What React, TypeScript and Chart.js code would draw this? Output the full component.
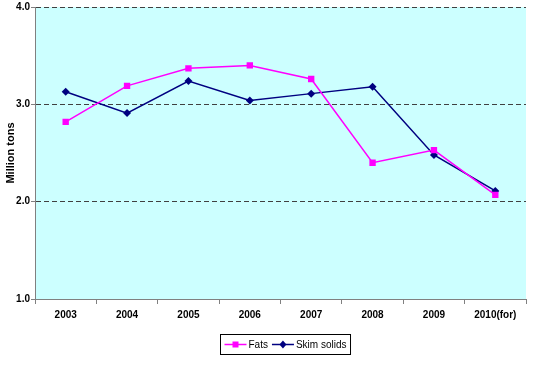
import React, { useEffect, useRef } from "react";
import { Chart, registerables } from "chart.js";

Chart.register(...registerables);

const categories = ["2003", "2004", "2005", "2006", "2007", "2008", "2009", "2010(for)"];
const fats = [2.82, 3.19, 3.37, 3.4, 3.26, 2.4, 2.53, 2.07];
const skimSolids = [3.13, 2.91, 3.24, 3.04, 3.11, 3.18, 2.48, 2.11];
const yTickValues = [1.0, 2.0, 3.0, 4.0];
const seriesNames = ["Fats", "Skim solids"];
const seriesColors = ["#FF00FF", "#000080"];

const FONT = "'Liberation Sans', Arial, sans-serif";

const plotBg = {
  id: "plotBg",
  beforeDraw(chart: any) {
    const { ctx, chartArea } = chart;
    ctx.save();
    ctx.fillStyle = "#CCFFFF";
    ctx.fillRect(chartArea.left, chartArea.top, chartArea.right - chartArea.left, chartArea.bottom - chartArea.top);
    ctx.restore();
  },
};

const boxLegend = {
  id: "boxLegend",
  afterDraw(chart: any) {
    const { ctx, chartArea } = chart;
    ctx.save();
    ctx.font = `10px ${FONT}`;
    const lineLen = 22;
    const gapText = 2;
    const itemGap = 4;
    const padX = 4;
    const items = chart.data.datasets.map((ds: any) => ({
      label: ds.label,
      color: ds.borderColor,
      style: ds.pointStyle,
      w: ctx.measureText(ds.label).width,
    }));
    let total = padX * 2;
    items.forEach((it: any, i: number) => {
      total += lineLen + gapText + it.w + (i > 0 ? itemGap : 0);
    });
    const cx = (chartArea.left + chartArea.right) / 2 + 5;
    const left = Math.round(cx - total / 2) + 0.5;
    const top = chart.height - 31.5;
    const h = 20;
    ctx.strokeStyle = "#000000";
    ctx.lineWidth = 1;
    ctx.strokeRect(left, top, total, h);
    const cy = top + h / 2;
    let x = left + padX;
    items.forEach((it: any, i: number) => {
      if (i > 0) x += itemGap;
      ctx.strokeStyle = it.color;
      ctx.fillStyle = it.color;
      ctx.lineWidth = 1.5;
      ctx.beginPath();
      ctx.moveTo(x, cy);
      ctx.lineTo(x + lineLen, cy);
      ctx.stroke();
      const mx = x + lineLen / 2;
      ctx.beginPath();
      if (it.style === "rect") {
        ctx.rect(mx - 3, cy - 3, 6, 6);
      } else {
        ctx.moveTo(mx, cy - 4);
        ctx.lineTo(mx + 3.5, cy);
        ctx.lineTo(mx, cy + 4);
        ctx.lineTo(mx - 3.5, cy);
        ctx.closePath();
      }
      ctx.fill();
      x += lineLen + gapText;
      ctx.fillStyle = "#000000";
      ctx.textBaseline = "middle";
      ctx.textAlign = "left";
      ctx.fillText(it.label, x, cy + 0.5);
      x += it.w;
    });
    ctx.restore();
  },
};

export default function App() {
  const ref = useRef<HTMLCanvasElement | null>(null);

  useEffect(() => {
    document.body.style.margin = "0";
    if (!ref.current) return;
    const chart = new Chart(ref.current, {
      type: "line",
      data: {
        labels: categories,
        datasets: [
          {
            label: seriesNames[0],
            data: fats,
            borderColor: seriesColors[0],
            backgroundColor: seriesColors[0],
            borderWidth: 1.5,
            pointStyle: "rect",
            pointRadius: 4.5,
            pointBorderWidth: 0,
            tension: 0,
          },
          {
            label: seriesNames[1],
            data: skimSolids,
            borderColor: seriesColors[1],
            backgroundColor: seriesColors[1],
            borderWidth: 1.5,
            pointStyle: "rectRot",
            pointRadius: 4,
            pointBorderWidth: 0,
            tension: 0,
          },
        ],
      },
      options: {
        animation: false,
        responsive: false,
        maintainAspectRatio: false,
        layout: { padding: { top: 7, right: 24, left: 0, bottom: 0 } },
        plugins: {
          legend: { display: false },
          tooltip: { enabled: false },
        },
        scales: {
          x: {
            offset: true,
            grid: {
              offset: true,
              drawOnChartArea: false,
              drawTicks: true,
              tickLength: 5,
              color: "#808080",
            },
            border: { display: true, color: "#808080", width: 1 },
            ticks: {
              color: "#000000",
              font: { family: FONT, size: 10, weight: "bold" },
              padding: 5,
              maxRotation: 0,
              autoSkip: false,
            },
            afterFit(scale: any) {
              scale.height = 67;
            },
          },
          y: {
            min: 1,
            max: 4,
            afterBuildTicks(scale: any) {
              scale.ticks = yTickValues.map((v) => ({ value: v }));
            },
            grid: {
              color: "#404040",
              lineWidth: 1,
              tickLength: 4,
              tickColor: "#808080",
              tickBorderDash: [],
            },
            border: { display: true, color: "#808080", width: 1, dash: [5, 3] },
            ticks: {
              color: "#000000",
              font: { family: FONT, size: 10, weight: "bold" },
              padding: 1,
              callback: (v: any) => Number(v).toFixed(1),
            },
            title: {
              display: true,
              text: "Million tons",
              color: "#000000",
              font: { family: FONT, size: 11, weight: "bold" },
              padding: { top: 4, bottom: 0 },
            },
            afterFit(scale: any) {
              scale.width = 35;
            },
          },
        },
      },
      plugins: [plotBg, boxLegend],
    });
    return () => chart.destroy();
  }, []);

  return (
    <div style={{ width: 550, height: 366 }}>
      <canvas ref={ref} width={550} height={366} style={{ display: "block", width: 550, height: 366 }} />
    </div>
  );
}
